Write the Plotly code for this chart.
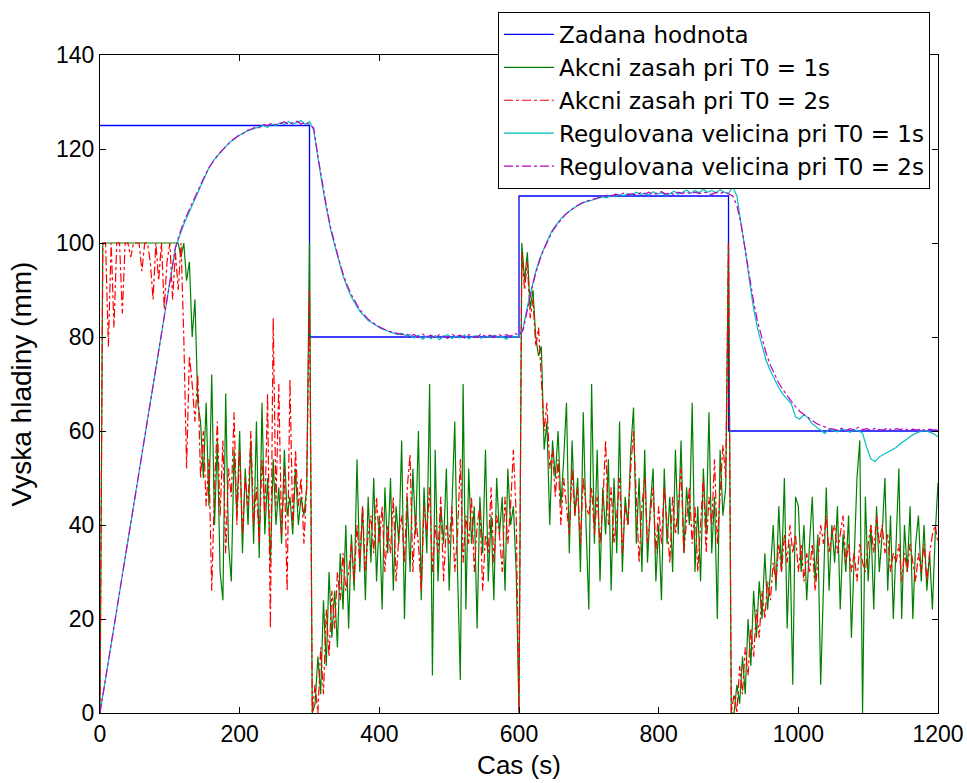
import plotly.graph_objects as go

# ---- setpoint (Zadana hodnota) ----
sp_times = [0, 300, 600, 900, 1200]
sp_values = [125, 80, 110, 60, 60]

# ---- action signals, sampled every 4 s (t = 0..1200) ----
act_step = 4
green_u = (
    [0,100,100,100,100, 100,100,100,100,100, 100,100,100,100,100, 100,100,100,100,100, 100,100,100,100,100]
    + [100,100,100,100,97, 100,92,96,80,88, 66,62,50,66,44, 72,40,58,30,24, 68,36,28,56,42]
    + [60,34,52,40,58, 36,62,33,66,38, 50,32,54,40,48, 36,56,42,46,38, 52,40,46,42,48]
    + [100,0,2,12,4, 24,10,30,16,26, 14,34,22,40,18, 38,26,54,30,44, 24,46,32,50,28]
    + [42,22,48,34,50, 26,44,36,58,20, 46,30,52,38,60, 24,48,34,70,8, 56,28,44,36,52]
    + [26,46,62,30,7, 70,22,52,36,44, 18,46,34,56,28, 42,24,50,38,46, 26,52,40,44,30]
    + [0,100,92,98,86, 90,80,76,78,56, 62,40,58,50,60, 44,54,66,34,58, 42,50,30,64,40]
    + [22,70,36,56,28, 48,38,54,26,50, 34,62,30,46,40, 56,65,36,50,30, 56,32,44,52,28]
    + [40,24,52,36,46, 30,56,38,58,34, 48,40,66,30,44, 28,52,38,64,34, 46,20,56,42,48]
    + [100,0,0,6,2, 12,4,20,10,26, 16,28,20,34,22, 30,40,26,44,30, 50,18,36,6,46]
    + [44,30,40,24,36, 46,28,38,6,30, 48,26,40,32,44, 22,38,30,42,16, 34,50,58,0,46]
    + [28,40,22,44,30, 38,50,26,42,20, 36,52,20,40,30, 44,20,36,42,28, 40,26,34,22,38]
    + [49]
)
red_u = (
    [0,100,100,78,100, 82,100,100,85,100, 100,97,100,100,100, 94,100,100,96,88, 100,92,100,86,96]
    + [100,88,98,90,100, 80,52,76,70,62, 72,50,60,44,54, 26,48,62,42,58, 34,52,46,64,40]
    + [56,38,50,44,60, 40,48,36,54,42, 68,18,84,44,70, 38,52,26,71,40, 56,44,50,36,48]
    + [90,0,6,0,14, 4,22,12,26,18, 30,24,34,26,30, 36,28,40,32,44, 30,38,42,34,46]
    + [36,44,30,40,34, 46,28,38,42,32, 48,55,30,42,36, 26,44,38,48,30, 40,34,46,28,40]
    + [36,44,30,38,54, 32,42,36,46,30, 40,44,26,38,34, 48,32,42,38,30, 46,36,44,56,42]
    + [0,98,90,96,84, 88,78,82,70,60, 66,52,56,46,54, 40,50,44,38,52, 42,48,36,50,44]
    + [42,48,38,46,36, 44,58,40,48,36, 42,50,34,44,40, 52,60,46,32,44, 50,36,42,48,34]
    + [44,36,48,40,32, 46,38,44,52,34, 42,48,36,44,30, 40,50,34,46,40, 54,36,48,57,50]
    + [100,0,4,0,10, 4,14,8,18,12, 22,16,26,20,28, 24,32,28,36,30, 38,32,40,34,38]
    + [30,36,28,34,30, 36,26,32,40,36, 42,34,38,40,34, 38,42,32,36,30, 34,28,36,32,30]
    + [36,40,34,42,36, 40,34,38,30,34, 32,36,28,34,30, 36,32,28,34,30, 36,28,34,38,40]
    + [36]
)

# ---- controlled level, sampled every 6 s (t = 0..1200) ----
y_step = 6
cyan_y = (
    [0,5.5,11,16.5,22, 27.5,33,38.5,44,49.5, 55,60.5,66,71.5,77, 82.5,88,93.5,99]
    + [101.5,104,106,108,110, 112,114,116,117.5,118.5, 119.5,120.5,121.5,122,122.8,
       123.3,123.8,124.1,124.4,124.7, 125,124.6,125.3,125,125.6, 125.2,125.8,125.3,125.7,126, 125.2,125.8]
    + [124,118,112.5,107.5,103, 99.5,96,93,90.5,88.5, 87,85.5,84.5,83.5,83, 82.3,81.8,81.5,81.2,80.8,
       80.5,80.8,80.2,80.5,79.8, 80.4,79.5,80.2,79.6,80.3, 79.4,80.1,80.5,79.7,80.2, 79.8,80.4,79.6,80.1,80.3,
       79.7,80.2,79.9,80.4,79.8, 80.1,79.5,80.3,79.9,80.2]
    + [82,86.5,90.5,94,96.8, 99,101,102.8,104,105.2, 106,106.8,107.4,108,108.4, 108.8,109,109.3,109.5,109.8,
       109.6,110.2,109.8,110.3,110.1, 110.5,110.2,110.8,110.3,110.6, 110.2,110.9,110.4,110.7,110.2,
       110.5,111,110.4,110.8,111.3, 110.6,111.2,110.7,111.5,110.8, 111.2,110.6,111.4,110.8,110.5]
    + [112,110,104,98.5,92, 86,81.5,78,75,72.8, 71,69.2,67.8,66.8,65.8, 63,62.5,63.5,62.8,61.5,
       60.8,60.3,59.5,60.4,60.1, 59.8,60.4,60.2,59.7,60.3, 60,59.5,56.5,54,53.5, 54.5,55,55.5,56,56.5,
       57.3,58,58.6,59.2,59.6, 60,60.1,59.8,59.4,58.8]
)
magenta_y = (
    [0,5.5,11.2,16.8,22.3, 27.8,33.4,39,44.6,50.1, 55.6,61.1,66.5,72,77.5, 83,88.4,93.8,99]
    + [102,104.5,106.5,108.5,110.5, 112.5,114.3,116,117.3,118.6, 119.6,120.6,121.4,122.2,122.8,
       123.2,123.9,124.2,124.6,124.5, 125.2,125,125.5,125.2,125.4, 125.8,125.2,125.6,125.9,125.3, 125.7,125.2]
    + [124.5,118.5,113,108,103.5, 99.8,96.5,93.5,91,89, 87.3,85.8,84.8,83.8,83.1, 82.5,82,81.6,81.2,81,
       80.7,80.5,80.6,80.3,80.5, 79.9,80.6,80,80.4,79.8, 80.5,80.2,79.7,80.6,80.1, 80.4,79.8,80.5,80.2,79.9,
       80.7,80.1,80.4,80,80.6, 80.2,80.5,80.1,80.8,80.3]
    + [81.5,86,90,93.6,96.5, 98.8,100.8,102.5,103.8,105, 106,106.8,107.5,108,108.5, 108.9,109.1,109.4,109.7,109.9,
       110.2,110,110.4,110.2,110.6, 110.3,110.5,110.2,110.7,110.4, 110.8,110.3,110.6,110.9,110.4,
       110.7,110.3,110.8,110.5,110.9, 110.4,110.8,110.5,110.9,110.6, 110.3,110.8,110.5,110.9,110.4]
    + [110,108,104,98.5,93, 87.5,83,79.5,76.5,74, 72,70.2,68.8,67.5,66.3, 65.2,64.2,63.5,62.8,62.2,
       61.6,61.2,60.8,60.5,60.4, 60.2,60.6,60.1,60.5,60.2, 60.8,60.3,60.5,60.1,60.6, 60.3,60.2,60.7,60.1,60.5,
       60.3,60.6,60.1,60.4,60.2, 60.5,60.1,60.4,60.2,60.3]
)

t_act = list(range(0, 1201, act_step))
t_y = list(range(0, 1201, y_step))
assert len(green_u) == len(t_act), len(green_u)
assert len(red_u) == len(t_act), len(red_u)
assert len(cyan_y) == len(t_y), len(cyan_y)
assert len(magenta_y) == len(t_y), len(magenta_y)

labels = ["Zadana hodnota", "Akcni zasah pri T0 = 1s", "Akcni zasah pri T0 = 2s",
          "Regulovana velicina pri T0 = 1s", "Regulovana velicina pri T0 = 2s"]

FONT = "Arial, Liberation Sans, sans-serif"
LEGFONT = "DejaVu Sans, Arial, sans-serif"

W, H = 967, 783

fig = go.Figure()
fig.add_trace(go.Scatter(x=sp_times, y=sp_values, mode="lines", line_shape="hv",
                         line=dict(color="#0000FF", width=1.3), name=labels[0], legendgroup="a"))
fig.add_trace(go.Scatter(x=t_act, y=green_u, mode="lines",
                         line=dict(color="#008000", width=1.2), name=labels[1], legendgroup="b"))
fig.add_trace(go.Scatter(x=t_act, y=red_u, mode="lines",
                         line=dict(color="#FF0000", width=1.2, dash="dashdot"), name=labels[2], legendgroup="c"))
fig.add_trace(go.Scatter(x=t_y, y=cyan_y, mode="lines",
                         line=dict(color="#00BFBF", width=1.2), name=labels[3], legendgroup="d"))
fig.add_trace(go.Scatter(x=t_y, y=magenta_y, mode="lines",
                         line=dict(color="#BF00BF", width=1.2, dash="dashdot"), name=labels[4], legendgroup="e"))

axis_common = dict(showline=True, linecolor="black", linewidth=1, mirror="ticks",
                   ticks="inside", ticklen=6, tickcolor="black", showgrid=False, zeroline=False,
                   automargin=False, ticklabeloverflow="allow",
                   tickfont=dict(family=FONT, size=23, color="black"))

fig.update_layout(
    width=W, height=H,
    margin=dict(l=100, r=29, t=55, b=70, autoexpand=False),
    paper_bgcolor="white", plot_bgcolor="white",
    font=dict(family=FONT, size=22, color="black"),
    hovermode=False,
    xaxis=dict(range=[0, 1200], dtick=200,
               title=dict(text="Cas (s)", standoff=10, font=dict(size=26)), **axis_common),
    yaxis=dict(range=[0, 140], dtick=20,
               title=dict(text="Vyska hladiny (mm)", standoff=16, font=dict(size=28)), **axis_common),
    legend=dict(xref="container", yref="container", x=930 / W, y=1 - 12 / H,
                xanchor="right", yanchor="top", bgcolor="white",
                bordercolor="black", borderwidth=1, tracegroupgap=0, itemwidth=50,
                font=dict(family=LEGFONT, size=23, color="black")),
    showlegend=True,
)

fig.write_html("out.html", config={"displayModeBar": False},
               post_script="document.body.style.margin='0px';document.body.style.padding='0px';")
